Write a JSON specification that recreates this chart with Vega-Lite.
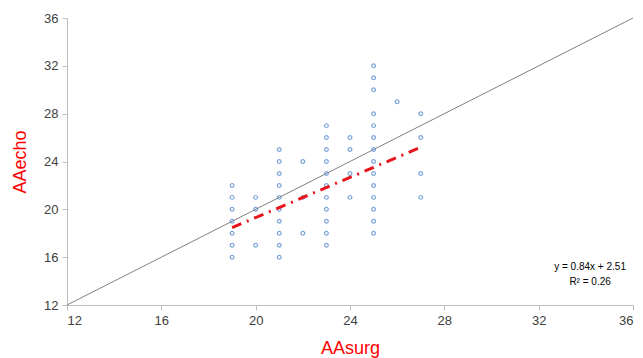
{
  "$schema": "https://vega.github.io/schema/vega-lite/v6.json",
  "width": 566,
  "height": 287,
  "autosize": {"type": "none"},
  "padding": {"left": 67, "top": 18, "right": 10, "bottom": 53},
  "background": "white",
  "config": {
    "view": {"stroke": null},
    "font": "Liberation Sans",
    "axis": {
      "grid": false,
      "domainColor": "#bfbfbf",
      "tickColor": "#bfbfbf",
      "tickSize": 5,
      "labelColor": "#404040",
      "labelFontSize": 13,
      "titleColor": "#ff0000",
      "titleFontSize": 18,
      "titleFontWeight": "normal"
    }
  },
  "layer": [
    {
      "data": {"values": [{"a": 12, "b": 12}, {"a": 36, "b": 36}]},
      "mark": {"type": "line", "color": "#808080", "strokeWidth": 1},
      "encoding": {
        "x": {"field": "a", "type": "quantitative", "scale": {"domain": [12, 36], "nice": false}, "axis": {"values": [12, 16, 20, 24, 28, 32, 36], "title": "AAsurg", "titlePadding": 12, "labelPadding": 4}},
        "y": {"field": "b", "type": "quantitative", "scale": {"domain": [12, 36], "nice": false}, "axis": {"values": [12, 16, 20, 24, 28, 32, 36], "title": "AAecho", "titlePadding": 14, "labelPadding": 4}}
      }
    },
    {
      "data": {"values": [
        {"AAsurg": 19, "AAecho": 16}, {"AAsurg": 19, "AAecho": 17}, {"AAsurg": 19, "AAecho": 18}, {"AAsurg": 19, "AAecho": 19}, {"AAsurg": 19, "AAecho": 20}, {"AAsurg": 19, "AAecho": 21}, {"AAsurg": 19, "AAecho": 22},
        {"AAsurg": 20, "AAecho": 17}, {"AAsurg": 20, "AAecho": 20}, {"AAsurg": 20, "AAecho": 21},
        {"AAsurg": 21, "AAecho": 16}, {"AAsurg": 21, "AAecho": 17}, {"AAsurg": 21, "AAecho": 18}, {"AAsurg": 21, "AAecho": 19}, {"AAsurg": 21, "AAecho": 20}, {"AAsurg": 21, "AAecho": 21}, {"AAsurg": 21, "AAecho": 22}, {"AAsurg": 21, "AAecho": 23}, {"AAsurg": 21, "AAecho": 24}, {"AAsurg": 21, "AAecho": 25},
        {"AAsurg": 22, "AAecho": 18}, {"AAsurg": 22, "AAecho": 21}, {"AAsurg": 22, "AAecho": 24},
        {"AAsurg": 23, "AAecho": 17}, {"AAsurg": 23, "AAecho": 18}, {"AAsurg": 23, "AAecho": 19}, {"AAsurg": 23, "AAecho": 20}, {"AAsurg": 23, "AAecho": 21}, {"AAsurg": 23, "AAecho": 22}, {"AAsurg": 23, "AAecho": 23}, {"AAsurg": 23, "AAecho": 24}, {"AAsurg": 23, "AAecho": 25}, {"AAsurg": 23, "AAecho": 26}, {"AAsurg": 23, "AAecho": 27},
        {"AAsurg": 24, "AAecho": 21}, {"AAsurg": 24, "AAecho": 23}, {"AAsurg": 24, "AAecho": 25}, {"AAsurg": 24, "AAecho": 26},
        {"AAsurg": 25, "AAecho": 18}, {"AAsurg": 25, "AAecho": 19}, {"AAsurg": 25, "AAecho": 20}, {"AAsurg": 25, "AAecho": 21}, {"AAsurg": 25, "AAecho": 22}, {"AAsurg": 25, "AAecho": 23}, {"AAsurg": 25, "AAecho": 24}, {"AAsurg": 25, "AAecho": 25}, {"AAsurg": 25, "AAecho": 26}, {"AAsurg": 25, "AAecho": 27}, {"AAsurg": 25, "AAecho": 28}, {"AAsurg": 25, "AAecho": 30}, {"AAsurg": 25, "AAecho": 31}, {"AAsurg": 25, "AAecho": 32},
        {"AAsurg": 26, "AAecho": 29},
        {"AAsurg": 27, "AAecho": 21}, {"AAsurg": 27, "AAecho": 23}, {"AAsurg": 27, "AAecho": 26}, {"AAsurg": 27, "AAecho": 28}
      ]},
      "mark": {"type": "point", "shape": "circle", "filled": false, "size": 14, "stroke": "#5b8fd0", "strokeWidth": 1.2, "opacity": 0.8},
      "encoding": {
        "x": {"field": "AAsurg", "type": "quantitative"},
        "y": {"field": "AAecho", "type": "quantitative"}
      }
    },
    {
      "data": {"values": [{"a": 19, "b": 18.47}, {"a": 27, "b": 25.19}]},
      "mark": {"type": "line", "color": "#e8141b", "strokeWidth": 3, "strokeDash": [10, 6, 2, 6]},
      "encoding": {
        "x": {"field": "a", "type": "quantitative"},
        "y": {"field": "b", "type": "quantitative"}
      }
    },
    {
      "data": {"values": [{"a": 34.18, "b": 15.2, "t": "y = 0.84x + 2.51"}, {"a": 34.18, "b": 13.95, "t": "R² = 0.26"}]},
      "mark": {"type": "text", "fontSize": 10, "color": "#000000", "align": "center", "baseline": "middle"},
      "encoding": {
        "x": {"field": "a", "type": "quantitative"},
        "y": {"field": "b", "type": "quantitative"},
        "text": {"field": "t"}
      }
    }
  ]
}
